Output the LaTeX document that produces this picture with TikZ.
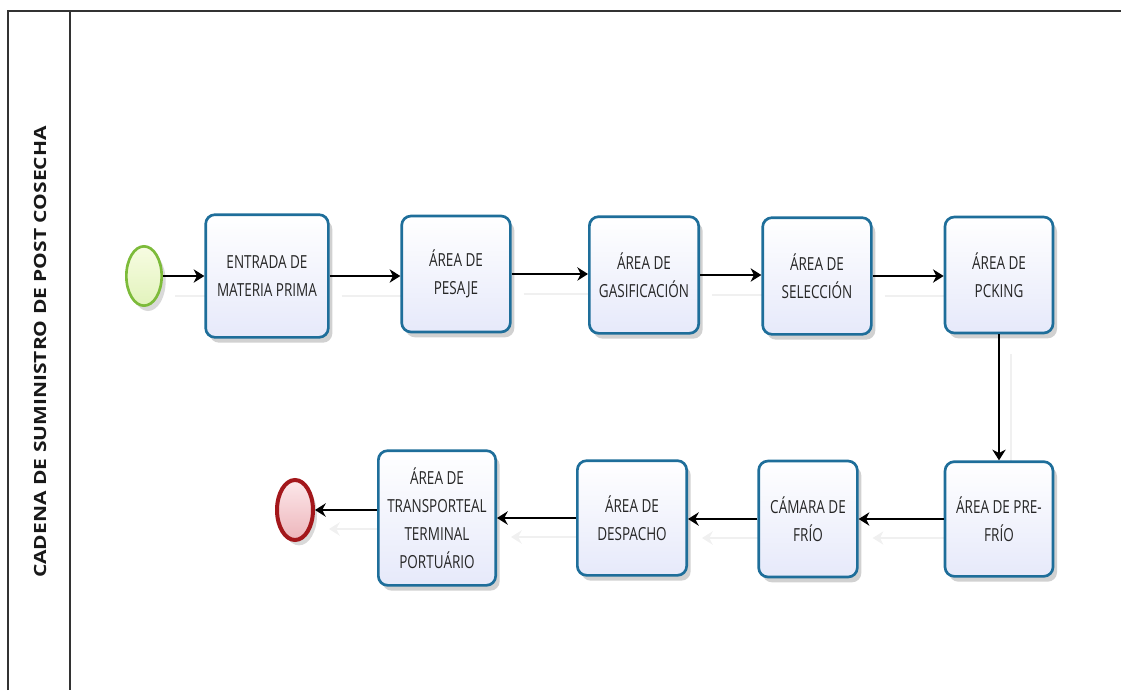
\documentclass[tikz,border=0pt]{standalone}
\usepackage{fontspec}
\setmainfont{Open Sans}
\newfontfamily\boxfont[FakeStretch=0.75]{Open Sans}
\newfontfamily\lanefont[FakeStretch=1.25]{Open Sans Bold}
\usetikzlibrary{arrows.meta,shadows,shapes.geometric}
\pgfdeclarelayer{background}
\pgfsetlayers{background,main}

\definecolor{taskline}{HTML}{1E6E9A}
\definecolor{taskbot}{HTML}{E6E9FA}
\definecolor{startline}{HTML}{7DBB3A}
\definecolor{starttop}{HTML}{F7FCE2}
\definecolor{startbot}{HTML}{E2F3BC}
\definecolor{endline}{HTML}{A3171B}
\definecolor{endtop}{HTML}{FCE8EA}
\definecolor{endbot}{HTML}{EDB5BB}
\definecolor{frameline}{HTML}{333333}

\tikzset{
  task/.style={rectangle, rounded corners=7pt, draw=taskline, line width=2pt,
    top color=white, bottom color=taskbot, align=center, inner sep=0pt,
    font=\boxfont\fontsize{13.5}{21}\selectfont, text=black!85,
    drop shadow={shadow xshift=3pt, shadow yshift=-4pt, opacity=0.18, fill=black}},
  startev/.style={ellipse, draw=startline, line width=2pt,
    minimum width=26.5pt, minimum height=44.5pt, inner sep=0pt,
    top color=starttop, bottom color=startbot,
    drop shadow={shadow xshift=3pt, shadow yshift=-4pt, opacity=0.15, fill=black}},
  endev/.style={ellipse, draw=endline, line width=3pt,
    minimum width=27pt, minimum height=45pt, inner sep=0pt,
    top color=endtop, bottom color=endbot,
    drop shadow={shadow xshift=3pt, shadow yshift=-4pt, opacity=0.15, fill=black}},
  flow/.style={draw=black, line width=1.2pt,
    -{Stealth[length=8pt,width=10pt,inset=2.5pt]}},
  ghost/.style={draw=black!6, line width=1.2pt,
    -{Stealth[length=8pt,width=10pt,inset=2.5pt]}},
  lane/.style={draw=frameline, line width=1.2pt}
}

\begin{document}
\begin{tikzpicture}[x=0.75pt,y=-0.75pt]
\useasboundingbox (0,0) rectangle (1121,690);

% pool frame and lane header
\draw[lane] (8,690) -- (8,11) -- (1121,11);
\draw[lane] (70,11) -- (70,690);
\node[rotate=90, font=\lanefont\fontsize{12.6}{14}\selectfont, text=black!90]
  (title) at (40,352) {CADENA DE SUMINISTRO DE POST COSECHA};

% events and tasks
\node[startev] (start) at (144,276) {};
\node[task, minimum width=92pt, minimum height=92pt] (entrada) at (267,276) {ENTRADA DE\\MATERIA PRIMA};
\node[task, minimum width=81.5pt, minimum height=87pt] (pesaje) at (456,274) {ÁREA DE\\PESAJE};
\node[task, minimum width=82pt, minimum height=87.5pt] (gasif) at (644,275) {ÁREA DE\\GASIFICACIÓN};
\node[task, minimum width=81.5pt, minimum height=87.5pt] (selec) at (817,276) {ÁREA DE\\SELECCIÓN};
\node[task, minimum width=81pt, minimum height=87pt] (pcking) at (999,275) {ÁREA DE\\PCKING};
\node[task, minimum width=81pt, minimum height=86pt] (prefrio) at (999,519) {ÁREA DE PRE-\\FRÍO};
\node[task, minimum width=74pt, minimum height=87pt] (camara) at (808,519) {CÁMARA DE\\FRÍO};
\node[task, minimum width=82pt, minimum height=86pt] (despacho) at (632,518) {ÁREA DE\\DESPACHO};
\node[task, minimum width=88pt, minimum height=101pt] (transp) at (437,518) {ÁREA DE\\TRANSPORTEAL\\TERMINAL\\PORTUÁRIO};
\node[endev] (fin) at (295,510) {};

% faint echo of the sequence flows
\begin{pgfonlayer}{background}
\draw[ghost] ([shift={(12,20)}]start.east) -- ([shift={(12,20)}]entrada.west);
\draw[ghost] ([shift={(12,20)}]entrada.east) -- ([shift={(12,20)}]entrada.east -| pesaje.west);
\draw[ghost] ([shift={(12,20)}]pesaje.east) -- ([shift={(12,20)}]pesaje.east -| gasif.west);
\draw[ghost] ([shift={(12,20)}]gasif.east) -- ([shift={(12,20)}]gasif.east -| selec.west);
\draw[ghost] ([shift={(12,20)}]selec.east) -- ([shift={(12,20)}]selec.east -| pcking.west);
\draw[ghost] ([shift={(12,20)}]pcking.south) -- ([shift={(12,20)}]prefrio.north);
\draw[ghost] ([shift={(14,19)}]prefrio.west) -- ([shift={(14,19)}]prefrio.west -| camara.east);
\draw[ghost] ([shift={(14,19)}]camara.west) -- ([shift={(14,19)}]camara.west -| despacho.east);
\draw[ghost] ([shift={(14,19)}]despacho.west) -- ([shift={(14,19)}]despacho.west -| transp.east);
\draw[ghost] ([shift={(14,19)}]transp.west |- fin.east) -- ([shift={(14,19)}]fin.east);
\end{pgfonlayer}

% sequence flows
\draw[flow] (start.east) -- (entrada.west);
\draw[flow] (entrada.east) -- (entrada.east -| pesaje.west);
\draw[flow] (pesaje.east) -- (pesaje.east -| gasif.west);
\draw[flow] (gasif.east) -- (gasif.east -| selec.west);
\draw[flow] (selec.east) -- (selec.east -| pcking.west);
\draw[flow] (pcking.south) -- (prefrio.north);
\draw[flow] (prefrio.west) -- (prefrio.west -| camara.east);
\draw[flow] (camara.west) -- (camara.west -| despacho.east);
\draw[flow] (despacho.west) -- (despacho.west -| transp.east);
\draw[flow] (transp.west |- fin.east) -- (fin.east);
\end{tikzpicture}
\end{document}
